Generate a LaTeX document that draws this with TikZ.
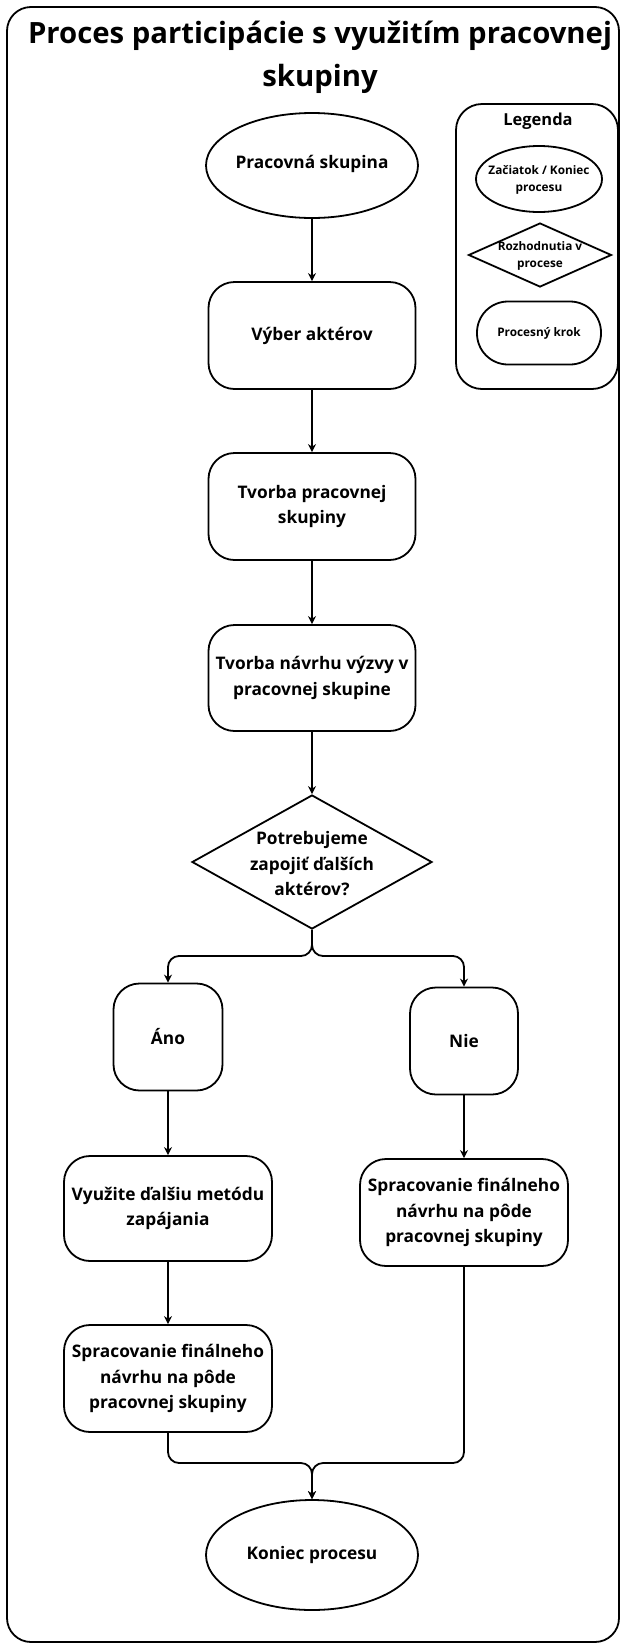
\documentclass[tikz,border=0pt]{standalone}
\usepackage{fontspec}
\setmainfont{Open Sans}
\usetikzlibrary{shapes.geometric,arrows.meta}
\tikzset{
  lw/.style={line width=1.8pt},
  txt/.style={font=\fontsize{17.3}{25.5}\selectfont\bfseries, align=center},
  proc/.style={draw, lw, rectangle, rounded corners=26pt, txt, inner sep=0pt},
  term/.style={draw, lw, ellipse, inner sep=0pt},
  arr/.style={lw, -{Stealth[length=8pt,width=8pt]}},
  smalltxt/.style={font=\fontsize{11.8}{17.5}\selectfont\bfseries, align=center}
}
\begin{document}
\begin{tikzpicture}[x=1pt,y=-1pt]
\useasboundingbox (0,0) rectangle (621,1647);
\draw[lw, rounded corners=24pt] (7,7) rectangle (619,1642);
\node[font=\fontsize{29.3}{43}\selectfont\bfseries, align=center] (title) at (320,57) {Proces participácie s využitím pracovnej\\skupiny};
% legend
\draw[lw, rounded corners=26pt] (456,104) rectangle (618,389);
\node[font=\fontsize{16.5}{20}\selectfont\bfseries] (leg) at (538,121) {Legenda};
\node[term, minimum width=126pt, minimum height=66pt] (le) at (539,179) {};
\node[smalltxt] (let) at (539,180) {Začiatok / Koniec\\procesu};
\node[draw, lw, diamond, minimum width=143pt, minimum height=64pt, inner sep=0pt] (ld) at (540,255) {};
\node[smalltxt] (ldt) at (540,256) {Rozhodnutia v\\procese};
\node[draw, lw, rectangle, rounded corners=31pt, minimum width=124pt, minimum height=63pt, inner sep=0pt, smalltxt] (lp) at (539,333) {Procesný krok};
% main flow
\node[term, minimum width=212pt, minimum height=105pt] (start) at (312,165.5) {};
\node[txt] (startt) at (312,164) {Pracovná skupina};
\node[proc, minimum width=207pt, minimum height=107pt] (b1) at (312,335.5) {Výber aktérov};
\node[proc, minimum width=207pt, minimum height=107pt] (b2) at (312,506.5) {Tvorba pracovnej\\skupiny};
\node[proc, minimum width=207pt, minimum height=106pt] (b3) at (312,678) {Tvorba návrhu výzvy v\\pracovnej skupine};
\node[draw, lw, diamond, minimum width=240pt, minimum height=134pt, inner sep=0pt] (dec) at (312,862) {};
\node[txt] (dect) at (312,864) {Potrebujeme\\zapojiť ďalších\\aktérov?};
\node[proc, minimum width=109pt, minimum height=107pt] (ano) at (168,1037) {Áno};
\node[proc, minimum width=108pt, minimum height=107pt] (nie) at (464,1041) {Nie};
\node[proc, minimum width=208pt, minimum height=105pt] (vyu) at (168,1208.5) {Využite ďalšiu metódu\\zapájania};
\node[proc, minimum width=208pt, minimum height=107pt] (sl) at (168,1378.5) {Spracovanie finálneho\\návrhu na pôde\\pracovnej skupiny};
\node[proc, minimum width=208pt, minimum height=107pt] (sr) at (464,1212.5) {Spracovanie finálneho\\návrhu na pôde\\pracovnej skupiny};
\node[term, minimum width=212pt, minimum height=110pt] (end) at (312,1555) {};
\node[txt] (endt) at (312,1555) {Koniec procesu};
\coordinate (split) at (312,956);
\coordinate (merge) at (312,1463);
% connectors
\draw[arr] (start) -- (b1);
\draw[arr] (b1) -- (b2);
\draw[arr] (b2) -- (b3);
\draw[arr] (b3) -- (dec);
\draw[arr, rounded corners=11pt] (dec.south) -- (split) -| (ano.north);
\draw[arr, rounded corners=11pt] (dec.south) -- (split) -| (nie.north);
\draw[arr] (ano) -- (vyu);
\draw[arr] (vyu) -- (sl);
\draw[arr] (nie) -- (sr);
\draw[arr, rounded corners=11pt] (sl.south) |- (merge) -- (end.north);
\draw[arr, rounded corners=11pt] (sr.south) |- (merge) -- (end.north);
\end{tikzpicture}
\end{document}
